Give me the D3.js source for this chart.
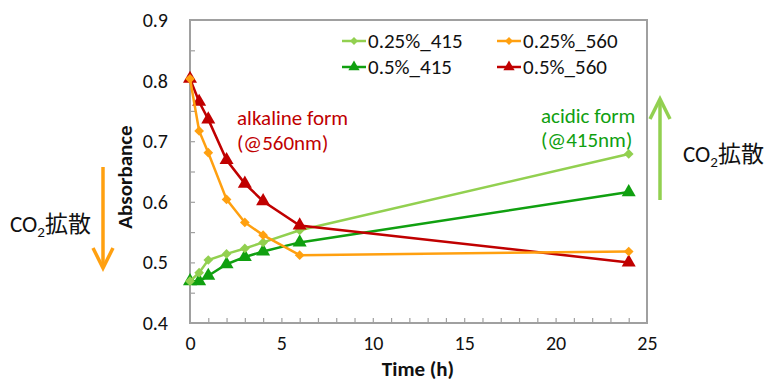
<!DOCTYPE html>
<html>
<head>
<meta charset="utf-8">
<script src="https://d3js.org/d3.v7.min.js"></script>
<style>
  body { margin: 0; background: #fff; }
  svg text { font-family: Carlito, Lato, "Open Sans", sans-serif; }
</style>
</head>
<body>
<svg id="chart" width="770" height="385"></svg>
<script>
// time points (h)
var times = [0, 0.5, 1, 2, 3, 4, 6, 24];

// absorbance per series
var a025_415 = [0.469, 0.483, 0.504, 0.514, 0.523, 0.533, 0.553, 0.679];
var a025_560 = [0.803, 0.717, 0.681, 0.604, 0.566, 0.545, 0.512, 0.518];
var a05_415 = [0.469, 0.469, 0.478, 0.497, 0.509, 0.518, 0.533, 0.616];
var a05_560 = [0.803, 0.765, 0.736, 0.669, 0.630, 0.601, 0.561, 0.500];

var seriesNames = ["0.25%_415", "0.25%_560", "0.5%_415", "0.5%_560"];
var xTicks = [0, 5, 10, 15, 20, 25];
var yTicks = [0.4, 0.5, 0.6, 0.7, 0.8, 0.9];

var series = [
    { name: seriesNames[2], values: a05_415, color: "#10a010", shape: "tri" },
    { name: seriesNames[0], values: a025_415, color: "#92d050", shape: "dia" },
    { name: seriesNames[3], values: a05_560, color: "#c00000", shape: "tri" },
    { name: seriesNames[1], values: a025_560, color: "#ffa010", shape: "dia" }
];

var svg = d3.select("#chart");
var pLeft = 190, pRight = 647, pTop = 20, pBottom = 323;

var x = d3.scaleLinear().domain([0, 25]).range([pLeft, pRight]);
var y = d3.scaleLinear().domain([0.4, 0.9]).range([pBottom, pTop]);

var axisColor = "#a0a0a0";

// frame
svg.append("rect")
    .attr("x", pLeft).attr("y", pTop)
    .attr("width", pRight - pLeft).attr("height", pBottom - pTop)
    .attr("fill", "none").attr("stroke", axisColor).attr("stroke-width", 2);

// minor ticks, pointing inward
svg.append("g")
    .attr("transform", "translate(0," + pBottom + ")")
    .call(d3.axisBottom(x).tickValues(d3.range(1, 25)).tickSize(-5).tickFormat(""))
    .call(function(g) { g.select(".domain").remove(); })
    .selectAll("line").attr("stroke", axisColor).attr("stroke-width", 1.2);

svg.append("g")
    .attr("transform", "translate(" + pLeft + ",0)")
    .call(d3.axisLeft(y).tickValues(d3.range(0.45, 0.9, 0.05)).tickSize(-5).tickFormat(""))
    .call(function(g) { g.select(".domain").remove(); })
    .selectAll("line").attr("stroke", axisColor).attr("stroke-width", 1.2);

// tick labels
var xg = svg.append("g")
    .attr("transform", "translate(0," + pBottom + ")")
    .call(d3.axisBottom(x).tickValues(xTicks).tickSize(0).tickPadding(13).tickFormat(d3.format("d")));
xg.select(".domain").remove();
xg.selectAll("text").attr("font-size", 20).attr("fill", "#111")
    .style("font-family", "Carlito, Lato, sans-serif");

var yg = svg.append("g")
    .attr("transform", "translate(" + pLeft + ",0)")
    .call(d3.axisLeft(y).tickValues(yTicks).tickSize(0).tickPadding(22).tickFormat(d3.format(".1f")));
yg.select(".domain").remove();
yg.selectAll("text").attr("font-size", 20).attr("fill", "#111")
    .style("font-family", "Carlito, Lato, sans-serif");

// axis titles
svg.append("text")
    .attr("x", 418).attr("y", 376)
    .attr("text-anchor", "middle")
    .attr("font-size", 21).attr("font-weight", "bold").attr("fill", "#111")
    .text("Time (h)");

svg.append("text")
    .attr("transform", "translate(132,177) rotate(-90)")
    .attr("text-anchor", "middle")
    .attr("font-size", 21).attr("font-weight", "bold").attr("fill", "#111")
    .text("Absorbance");

// series
var line = d3.line()
    .x(function(d, i) { return x(times[i]); })
    .y(function(d) { return y(d); });

var diamond = d3.symbol().type(d3.symbolDiamond2).size(60);
var triangle = d3.symbol().type(d3.symbolTriangle).size(85);

series.forEach(function(s) {
    svg.append("path")
        .attr("d", line(s.values))
        .attr("fill", "none")
        .attr("stroke", s.color)
        .attr("stroke-width", 2.5);

    svg.selectAll(null)
        .data(s.values)
        .enter().append("path")
        .attr("d", s.shape == "tri" ? triangle : diamond)
        .attr("transform", function(d, i) { return "translate(" + x(times[i]) + "," + y(d) + ")"; })
        .attr("fill", s.color);
});

// legend
var legendItems = [
    { s: series[1], lx: 342, ly: 41 },
    { s: series[3], lx: 497, ly: 41 },
    { s: series[0], lx: 342, ly: 67 },
    { s: series[2], lx: 497, ly: 67 }
];
legendItems.forEach(function(it) {
    var g = svg.append("g").attr("transform", "translate(" + it.lx + "," + it.ly + ")");
    g.append("line").attr("x1", 0).attr("x2", 24)
        .attr("stroke", it.s.color).attr("stroke-width", 2.5);
    g.append("path")
        .attr("d", it.s.shape == "tri" ? d3.symbol().type(d3.symbolTriangle).size(55) : d3.symbol().type(d3.symbolDiamond2).size(40))
        .attr("transform", "translate(12,0)")
        .attr("fill", it.s.color);
    g.append("text")
        .attr("x", 26).attr("y", 7)
        .attr("font-size", 21).attr("fill", "#111")
        .text(it.s.name);
});

// annotations
svg.append("text").attr("x", 237).attr("y", 125)
    .attr("font-size", 21).attr("fill", "#c00000").text("alkaline form");
svg.append("text").attr("x", 237).attr("y", 150)
    .attr("font-size", 21).attr("fill", "#c00000").text("(@560nm)");
svg.append("text").attr("x", 541).attr("y", 123)
    .attr("font-size", 21).attr("fill", "#10a010").text("acidic form");
svg.append("text").attr("x", 541).attr("y", 147)
    .attr("font-size", 21).attr("fill", "#10a010").text("(@415nm)");

// CO2 diffusion arrows
function arrow(xp, y1, y2, color) {
    var dir = y2 > y1 ? 1 : -1;
    svg.append("line")
        .attr("x1", xp).attr("x2", xp)
        .attr("y1", y1).attr("y2", y2 - dir * 1)
        .attr("stroke", color).attr("stroke-width", 3.5);
    svg.append("path")
        .attr("d", "M" + (xp - 10) + "," + (y2 - dir * 20) + "L" + xp + "," + y2 + "L" + (xp + 10) + "," + (y2 - dir * 20))
        .attr("fill", "none").attr("stroke", color).attr("stroke-width", 3.5);
}
arrow(103, 167, 268, "#ffa010");
arrow(660, 200, 99, "#92d050");

function co2(xp, yp) {
    var t = svg.append("text").attr("x", xp).attr("y", yp)
        .attr("font-size", 23).attr("fill", "#111")
        .style("font-family", "Carlito, Lato, sans-serif");
    t.append("tspan").text("CO");
    t.append("tspan").attr("font-size", 15).attr("dy", 5).text("2");
    t.append("tspan").attr("dy", -5)
        .style("font-family", "'Noto Sans CJK JP', sans-serif")
        .text("拡散");
}
co2(10, 232);
co2(683, 162);
</script>
</body>
</html>
